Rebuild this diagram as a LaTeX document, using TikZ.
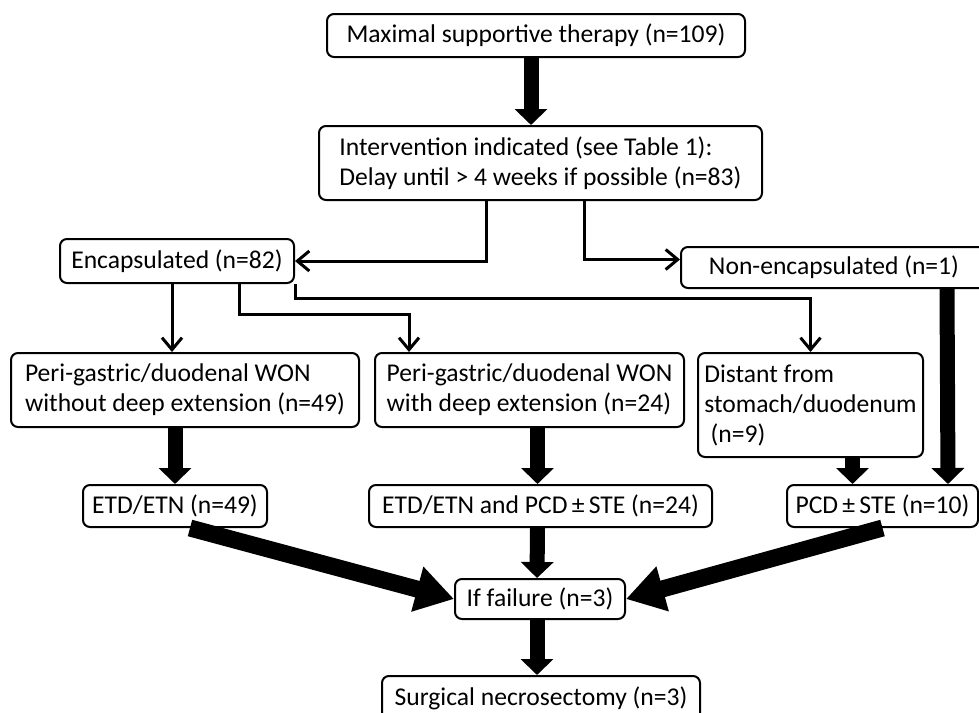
\documentclass[tikz,border=0pt]{standalone}
\usepackage{fontspec}
\setmainfont{Carlito}
\usetikzlibrary{arrows.meta,calc}
\definecolor{flowInk}{HTML}{000000}
\tikzset{
  every picture/.style={font=\fontsize{25.6}{30}\selectfont, text=flowInk},
  flow box/.style={draw=flowInk, line width=2pt, rounded corners=7pt,
    fill=white, align=left, inner xsep=8pt, inner ysep=4pt},
  flow thin/.style={-{Straight Barb[length=12pt,width=20pt]},
    draw=flowInk, line width=3pt},
  flow thick/.style={-{Triangle[length=16pt,width=32pt]},
    draw=flowInk, line width=15pt, line cap=butt},
  flow heavy/.style={-{Triangle[length=38pt,width=44pt]},
    draw=flowInk, line width=17pt, line cap=butt}
}

\begin{document}
\begin{tikzpicture}[x=1pt,y=-1pt]
  \useasboundingbox (0,0) rectangle (979,712);
  \clip (0,0) rectangle (979,712);
  \node[flow box, minimum width=418pt, minimum height=43pt] (support) at (536,35.5) {Maximal supportive therapy (n=109)};
  \node[flow box, minimum width=443pt, minimum height=74pt] (interv) at (540.5,163) {Intervention indicated (see Table 1):\\Delay until > 4 weeks if possible (n=83)};
  \node[flow box, minimum width=234pt, minimum height=44pt] (encap) at (177,261) {Encapsulated (n=82)};
  \node[flow box, anchor=west, minimum width=306pt, minimum height=41pt] (nonenc) at (680,267.5) {Non-encapsulated (n=1)};
  \node[flow box, minimum width=348pt, minimum height=74pt] (peri1) at (185,390) {Peri-gastric/duodenal WON\\without deep extension (n=49)};
  \node[flow box, minimum width=309pt, minimum height=74pt] (peri2) at (529.5,390) {Peri-gastric/duodenal WON\\with deep extension (n=24)};
  \node[flow box, minimum width=225pt, minimum height=104pt, inner xsep=5pt] (distant) at (810.5,405) {Distant from\\stomach/duodenum\\\hspace*{0.25em}(n=9)};
  \node[flow box, minimum width=184pt, minimum height=42pt] (etd49) at (175,506) {ETD/ETN (n=49)};
  \node[flow box, minimum width=343pt, minimum height=42pt] (etd24) at (540.5,506) {ETD/ETN and PCD\,±\,STE (n=24)};
  \node[flow box, minimum width=191pt, minimum height=42pt] (pcd10) at (882.5,506) {PCD\,±\,STE (n=10)};
  \node[flow box, minimum width=170pt, minimum height=40pt] (fail) at (540,599) {If failure (n=3)};
  \node[flow box, anchor=north, minimum width=318pt, minimum height=44pt] (surg) at (541,675) {Surgical necrosectomy (n=3)};

  \draw[flow thick] ($(support.south)+(-5,0)$) -- ($(interv.north)+(-9.5,0)$);
  \draw[flow thin] ($(interv.south)+(-54,0)$) |- (encap.east);
  \draw[flow thin] ($(interv.south)+(43.5,0)$) |- ([yshift=8pt]nonenc.west);
  \draw[flow thin] ($(encap.south)+(-5,0)$) -- ($(peri1.north)+(-13,0)$);
  \draw[flow thin] ($(encap.south)+(62,0)$) -- ++(0,30) -| ($(peri2.north)+(-120.5,0)$);
  \draw[flow thin] (encap.south east) -- ++(0,14) -| (distant.north);
  \draw[flow thick] (etd49.north |- peri1.south) -- (etd49.north);
  \draw[flow thick] ($(etd24.north |- peri2.south)+(-3,0)$) -- ($(etd24.north)+(-3,0)$);
  \draw[flow thick] ($(pcd10.north |- distant.south)+(-30,0)$) -- ($(pcd10.north)+(-30,0)$);
  \draw[flow thick] ($(nonenc.south west)+(267,0)$) -- ($(pcd10.north east)+(-31,0)$);
  \draw[flow heavy] ($(etd49.south)+(15,0)$) -- (fail.west);
  \draw[flow heavy] (pcd10.south) -- (fail.east);
  \draw[flow thick] ($(etd24.south)+(-3,0)$) -- ($(fail.north)+(-3,0)$);
  \draw[flow thick] ($(fail.south)+(-3,0)$) -- ($(surg.north)+(-4,0)$);
\end{tikzpicture}
\end{document}
